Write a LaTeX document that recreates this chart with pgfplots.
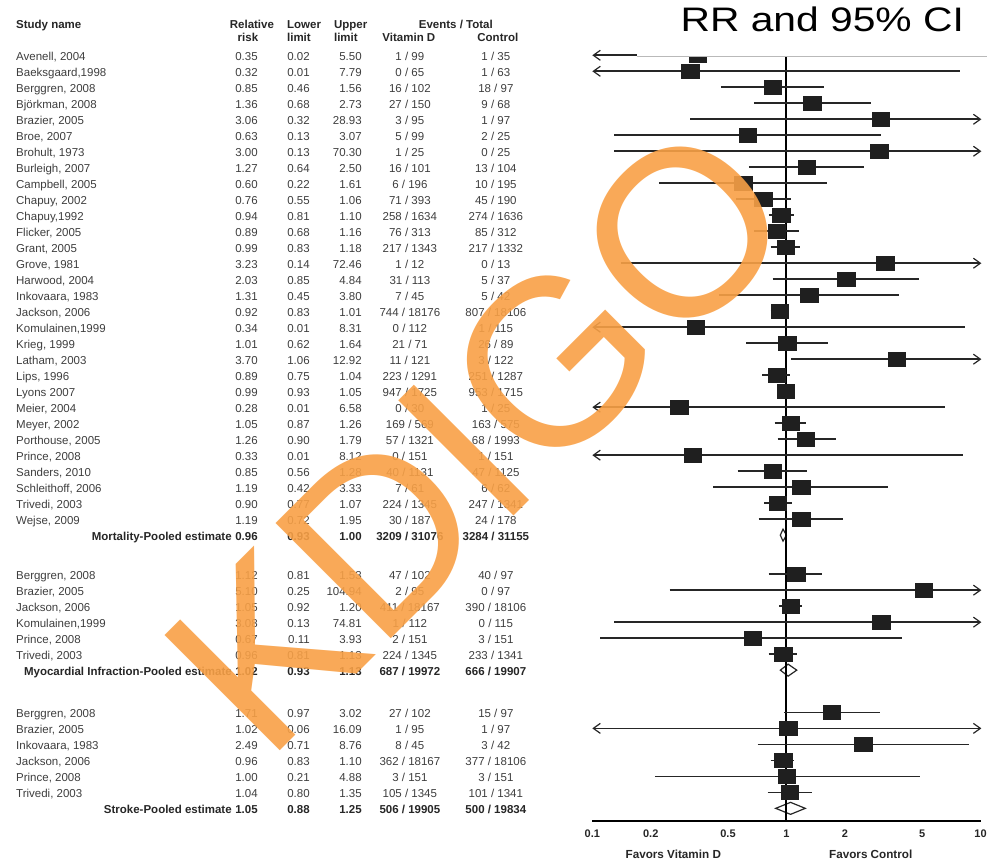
\documentclass[border=0pt]{standalone}
\usepackage{fontspec}
\setmainfont{Liberation Sans}
\usepackage{pgfplots}
\pgfplotsset{compat=1.18}
\usepackage{pgfplotstable}
\usetikzlibrary{arrows.meta}
\definecolor{kdigo}{RGB}{248,160,70}
\definecolor{txt}{RGB}{62,62,62}

\pgfplotstableread{
r rr
0 0.35
-1 0.32
-2 0.85
-3 1.36
-4 3.06
-5 0.63
-6 3.00
-7 1.27
-8 0.60
-9 0.76
-10 0.94
-11 0.89
-12 0.99
-13 3.23
-14 2.03
-15 1.31
-16 0.92
-17 0.34
-18 1.01
-19 3.70
-20 0.89
-21 0.99
-22 0.28
-23 1.05
-24 1.26
-25 0.33
-26 0.85
-27 1.19
-28 0.90
-29 1.19
-32.44 1.12
-33.44 5.10
-34.44 1.05
-35.44 3.08
-36.44 0.67
-37.44 0.96
-41.08 1.71
-42.08 1.02
-43.08 2.49
-44.08 0.96
-45.08 1.00
-46.08 1.04
}\squares

\newcommand{\srow}[7]{%
  \pgfmathsetmacro{\yb}{-(60.4+16*#1)}%
  \node[tt, anchor=base west] at (16,\yb) {#2};
  \node[tt, anchor=base east] at (258,\yb) {#3};
  \node[tt, anchor=base east] at (310,\yb) {#4};
  \node[tt, anchor=base east] at (362,\yb) {#5};
  \node[tt, anchor=base] at (410,\yb) {#6};
  \node[tt, anchor=base] at (496,\yb) {#7};
}
\newcommand{\prow}[7]{%
  \pgfmathsetmacro{\yb}{-(60.4+16*#1)}%
  \node[tb, anchor=base east] at (232,\yb) {#2};
  \node[tb, anchor=base east] at (258,\yb) {#3};
  \node[tb, anchor=base east] at (310,\yb) {#4};
  \node[tb, anchor=base east] at (362,\yb) {#5};
  \node[tb, anchor=base] at (410,\yb) {#6};
  \node[tb, anchor=base] at (496,\yb) {#7};
}

\begin{document}
\begin{tikzpicture}[
  tt/.style={inner sep=0pt, font=\fontsize{11.5}{13}\selectfont, text=txt},
  tb/.style={inner sep=0pt, font=\fontsize{11.5}{13}\selectfont\bfseries, text=black!85}]
\begin{scope}[x=1pt,y=1pt]
\path[use as bounding box] (0,0) rectangle (987,-860);

% headers
\node[tb, anchor=base west] at (16,-28.2) {Study name};
\node[tb, anchor=base] at (252,-28.2) {Relative};
\node[tb, anchor=base] at (248,-41.5) {risk};
\node[tb, anchor=base west] at (287,-28.2) {Lower};
\node[tb, anchor=base west] at (287,-41.5) {limit};
\node[tb, anchor=base west] at (334,-28.2) {Upper};
\node[tb, anchor=base west] at (334,-41.5) {limit};
\node[tb, anchor=base] at (456,-28.2) {Events / Total};
\node[tb, anchor=base] at (409,-41.5) {Vitamin D};
\node[tb, anchor=base] at (498,-41.5) {Control};

% mortality
\srow{0}{Avenell, 2004}{0.35}{0.02}{5.50}{1 / 99}{1 / 35}
\srow{1}{Baeksgaard,1998}{0.32}{0.01}{7.79}{0 / 65}{1 / 63}
\srow{2}{Berggren, 2008}{0.85}{0.46}{1.56}{16 / 102}{18 / 97}
\srow{3}{Björkman, 2008}{1.36}{0.68}{2.73}{27 / 150}{9 / 68}
\srow{4}{Brazier, 2005}{3.06}{0.32}{28.93}{3 / 95}{1 / 97}
\srow{5}{Broe, 2007}{0.63}{0.13}{3.07}{5 / 99}{2 / 25}
\srow{6}{Brohult, 1973}{3.00}{0.13}{70.30}{1 / 25}{0 / 25}
\srow{7}{Burleigh, 2007}{1.27}{0.64}{2.50}{16 / 101}{13 / 104}
\srow{8}{Campbell, 2005}{0.60}{0.22}{1.61}{6 / 196}{10 / 195}
\srow{9}{Chapuy, 2002}{0.76}{0.55}{1.06}{71 / 393}{45 / 190}
\srow{10}{Chapuy,1992}{0.94}{0.81}{1.10}{258 / 1634}{274 / 1636}
\srow{11}{Flicker, 2005}{0.89}{0.68}{1.16}{76 / 313}{85 / 312}
\srow{12}{Grant, 2005}{0.99}{0.83}{1.18}{217 / 1343}{217 / 1332}
\srow{13}{Grove, 1981}{3.23}{0.14}{72.46}{1 / 12}{0 / 13}
\srow{14}{Harwood, 2004}{2.03}{0.85}{4.84}{31 / 113}{5 / 37}
\srow{15}{Inkovaara, 1983}{1.31}{0.45}{3.80}{7 / 45}{5 / 42}
\srow{16}{Jackson, 2006}{0.92}{0.83}{1.01}{744 / 18176}{807 / 18106}
\srow{17}{Komulainen,1999}{0.34}{0.01}{8.31}{0 / 112}{1 / 115}
\srow{18}{Krieg, 1999}{1.01}{0.62}{1.64}{21 / 71}{26 / 89}
\srow{19}{Latham, 2003}{3.70}{1.06}{12.92}{11 / 121}{3 / 122}
\srow{20}{Lips, 1996}{0.89}{0.75}{1.04}{223 / 1291}{251 / 1287}
\srow{21}{Lyons 2007}{0.99}{0.93}{1.05}{947 / 1725}{953 / 1715}
\srow{22}{Meier, 2004}{0.28}{0.01}{6.58}{0 / 30}{1 / 25}
\srow{23}{Meyer, 2002}{1.05}{0.87}{1.26}{169 / 569}{163 / 575}
\srow{24}{Porthouse, 2005}{1.26}{0.90}{1.79}{57 / 1321}{68 / 1993}
\srow{25}{Prince, 2008}{0.33}{0.01}{8.12}{0 / 151}{1 / 151}
\srow{26}{Sanders, 2010}{0.85}{0.56}{1.28}{40 / 1131}{47 / 1125}
\srow{27}{Schleithoff, 2006}{1.19}{0.42}{3.33}{7 / 61}{6 / 62}
\srow{28}{Trivedi, 2003}{0.90}{0.77}{1.07}{224 / 1345}{247 / 1341}
\srow{29}{Wejse, 2009}{1.19}{0.72}{1.95}{30 / 187}{24 / 178}
\prow{30}{Mortality-Pooled estimate}{0.96}{0.93}{1.00}{3209 / 31076}{3284 / 31155}
% myocardial infarction
\srow{32.44}{Berggren, 2008}{1.12}{0.81}{1.53}{47 / 102}{40 / 97}
\srow{33.44}{Brazier, 2005}{5.10}{0.25}{104.94}{2 / 95}{0 / 97}
\srow{34.44}{Jackson, 2006}{1.05}{0.92}{1.20}{411 / 18167}{390 / 18106}
\srow{35.44}{Komulainen,1999}{3.08}{0.13}{74.81}{1 / 112}{0 / 115}
\srow{36.44}{Prince, 2008}{0.67}{0.11}{3.93}{2 / 151}{3 / 151}
\srow{37.44}{Trivedi, 2003}{0.96}{0.81}{1.13}{224 / 1345}{233 / 1341}
\prow{38.44}{Myocardial Infraction-Pooled estimate}{1.02}{0.93}{1.13}{687 / 19972}{666 / 19907}
% stroke
\srow{41.08}{Berggren, 2008}{1.71}{0.97}{3.02}{27 / 102}{15 / 97}
\srow{42.08}{Brazier, 2005}{1.02}{0.06}{16.09}{1 / 95}{1 / 97}
\srow{43.08}{Inkovaara, 1983}{2.49}{0.71}{8.76}{8 / 45}{3 / 42}
\srow{44.08}{Jackson, 2006}{0.96}{0.83}{1.10}{362 / 18167}{377 / 18106}
\srow{45.08}{Prince, 2008}{1.00}{0.21}{4.88}{3 / 151}{3 / 151}
\srow{46.08}{Trivedi, 2003}{1.04}{0.80}{1.35}{105 / 1345}{101 / 1341}
\prow{47.08}{Stroke-Pooled estimate}{1.05}{0.88}{1.25}{506 / 19905}{500 / 19834}
\end{scope}

\begin{axis}[
  at={(592.5pt,-821.7pt)}, anchor=south west,
  scale only axis, width=389.2pt, height=771.2pt,
  xmode=log, xmin=0.1, xmax=10.1,
  ymin=-47.9, ymax=0.3,
  axis x line*=bottom, axis y line=none,
  x axis line style={line width=2pt, black},
  xtick={0.1,0.2,0.5,1,2,5,10},
  xticklabels={0.1,0.2,0.5,1,2,5,10},
  xminorticks=false, major tick length=0pt,
  xticklabel style={anchor=base, yshift=-16.3pt, inner sep=0pt,
    font=\fontsize{11}{12}\selectfont\bfseries, text=black!85},
  clip=false,
  ci/.style={line width=1.6pt, black!85},
  la/.style={ci, arrows={Straight Barb[length=7pt,width=10pt,line width=1.2pt]-}},
  ra/.style={ci, arrows={-Straight Barb[length=7pt,width=10pt,line width=1.2pt]}},
  ba/.style={ci, arrows={Straight Barb[length=7pt,width=10pt,line width=1.2pt]-Straight Barb[length=7pt,width=10pt,line width=1.2pt]}},
]
% diamonds (pooled estimates)
\addplot[black!85, line width=1.2pt] coordinates {(0.93,-30) (0.96,-29.625) (1.00,-30) (0.96,-30.375)} -- cycle;
\addplot[black!85, line width=1.2pt] coordinates {(0.93,-38.44) (1.02,-38.065) (1.13,-38.44) (1.02,-38.815)} -- cycle;
\addplot[black!85, line width=1.2pt] coordinates {(0.88,-47.08) (1.05,-46.705) (1.25,-47.08) (1.05,-47.455)} -- cycle;
% line of no effect
\addplot[black, line width=2pt] coordinates {(1,0.2) (1,-47.9)};
% confidence intervals
\addplot[la] coordinates {(0.1,0) (5.50,0)};
\addplot[la] coordinates {(0.1,-1) (7.79,-1)};
\addplot[ci] coordinates {(0.46,-2) (1.56,-2)};
\addplot[ci] coordinates {(0.68,-3) (2.73,-3)};
\addplot[ra] coordinates {(0.32,-4) (10.1,-4)};
\addplot[ci] coordinates {(0.13,-5) (3.07,-5)};
\addplot[ra] coordinates {(0.13,-6) (10.1,-6)};
\addplot[ci] coordinates {(0.64,-7) (2.50,-7)};
\addplot[ci] coordinates {(0.22,-8) (1.61,-8)};
\addplot[ci] coordinates {(0.55,-9) (1.06,-9)};
\addplot[ci] coordinates {(0.81,-10) (1.10,-10)};
\addplot[ci] coordinates {(0.68,-11) (1.16,-11)};
\addplot[ci] coordinates {(0.83,-12) (1.18,-12)};
\addplot[ra] coordinates {(0.14,-13) (10.1,-13)};
\addplot[ci] coordinates {(0.85,-14) (4.84,-14)};
\addplot[ci] coordinates {(0.45,-15) (3.80,-15)};
\addplot[ci] coordinates {(0.83,-16) (1.01,-16)};
\addplot[la] coordinates {(0.1,-17) (8.31,-17)};
\addplot[ci] coordinates {(0.62,-18) (1.64,-18)};
\addplot[ra] coordinates {(1.06,-19) (10.1,-19)};
\addplot[ci] coordinates {(0.75,-20) (1.04,-20)};
\addplot[ci] coordinates {(0.93,-21) (1.05,-21)};
\addplot[la] coordinates {(0.1,-22) (6.58,-22)};
\addplot[ci] coordinates {(0.87,-23) (1.26,-23)};
\addplot[ci] coordinates {(0.90,-24) (1.79,-24)};
\addplot[la] coordinates {(0.1,-25) (8.12,-25)};
\addplot[ci] coordinates {(0.56,-26) (1.28,-26)};
\addplot[ci] coordinates {(0.42,-27) (3.33,-27)};
\addplot[ci] coordinates {(0.77,-28) (1.07,-28)};
\addplot[ci] coordinates {(0.72,-29) (1.95,-29)};
\addplot[ci] coordinates {(0.81,-32.44) (1.53,-32.44)};
\addplot[ra] coordinates {(0.25,-33.44) (10.1,-33.44)};
\addplot[ci] coordinates {(0.92,-34.44) (1.20,-34.44)};
\addplot[ra] coordinates {(0.13,-35.44) (10.1,-35.44)};
\addplot[ci] coordinates {(0.11,-36.44) (3.93,-36.44)};
\addplot[ci] coordinates {(0.81,-37.44) (1.13,-37.44)};
\addplot[ci] coordinates {(0.97,-41.08) (3.02,-41.08)};
\addplot[ba] coordinates {(0.1,-42.08) (10.1,-42.08)};
\addplot[ci] coordinates {(0.71,-43.08) (8.76,-43.08)};
\addplot[ci] coordinates {(0.83,-44.08) (1.10,-44.08)};
\addplot[ci] coordinates {(0.21,-45.08) (4.88,-45.08)};
\addplot[ci] coordinates {(0.80,-46.08) (1.35,-46.08)};
% point estimates
\addplot[only marks, mark=square*, mark size=8.7pt,
  mark options={yscale=0.82, fill=black!88, draw=black!88, line width=0.4pt}]
  table[x=rr, y=r] {\squares};
\end{axis}

\begin{scope}[x=1pt,y=1pt]
% title box
\fill[white] (637,0) rectangle (987,-56.7);
\draw[gray!55, line width=0.6pt] (637,-56.7) -- (987,-56.7);
\node[anchor=base, inner sep=0pt, font=\fontsize{34}{40}\selectfont, xscale=1.2] at (822.5,-31.7) {RR and 95\% CI};

% favors labels
\node[anchor=base, inner sep=0pt, font=\fontsize{11.7}{13}\selectfont\bfseries, text=black!85] at (673.5,-858.5) {Favors Vitamin D};
\node[anchor=base, inner sep=0pt, font=\fontsize{11.7}{13}\selectfont\bfseries, text=black!85] at (871,-858.5) {Favors Control};

% watermark
\node[rotate=45, anchor=base west, inner sep=0pt, font=\fontsize{237}{240}\selectfont, text=kdigo, text opacity=0.9] at (266,-765) {KDIGO};
\end{scope}
\end{tikzpicture}
\end{document}
